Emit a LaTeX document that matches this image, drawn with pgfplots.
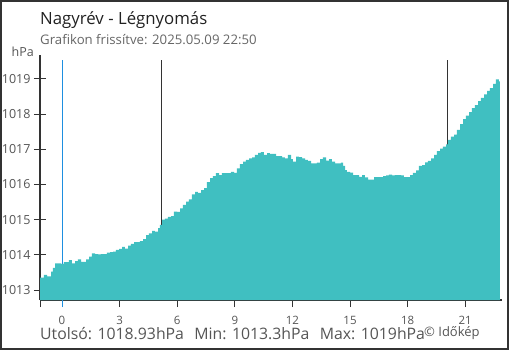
\documentclass[border=0pt]{standalone}
\usepackage{fontspec}
\setmainfont{Open Sans}
\usepackage{pgfplots}
\pgfplotsset{compat=1.18}
\definecolor{teal1}{HTML}{40BFC1}
\definecolor{axgray}{HTML}{333333}
\definecolor{txtgray}{HTML}{555555}
\definecolor{vblue}{HTML}{1E8FE0}
\pgfplotstableread{
h v
-1.146 1012.716
-1.146 1013.35
-0.94 1013.43
-0.78 1013.39
-0.57 1013.52
-0.47 1013.63
-0.36 1013.76
-0.21 1013.76
-0.05 1013.74
0.10 1013.79
0.26 1013.79
0.36 1013.85
0.52 1013.76
0.68 1013.82
0.83 1013.87
0.99 1013.80
1.15 1013.80
1.25 1013.87
1.41 1013.95
1.56 1014.04
1.72 1014.02
1.88 1014.01
2.03 1014.02
2.19 1014.02
2.34 1014.06
2.50 1014.08
2.66 1014.09
2.81 1014.14
2.97 1014.17
3.13 1014.23
3.28 1014.18
3.44 1014.26
3.59 1014.31
3.75 1014.36
3.91 1014.36
4.06 1014.39
4.22 1014.45
4.38 1014.56
4.53 1014.61
4.69 1014.68
4.84 1014.66
5.00 1014.76
5.10 1014.85
5.21 1015.00
5.36 1015.03
5.52 1015.08
5.68 1015.10
5.83 1015.23
5.99 1015.22
6.15 1015.32
6.30 1015.42
6.46 1015.51
6.61 1015.58
6.77 1015.72
6.93 1015.79
7.08 1015.76
7.24 1015.84
7.40 1015.90
7.55 1016.07
7.71 1016.18
7.86 1016.24
8.02 1016.32
8.18 1016.27
8.33 1016.32
8.49 1016.32
8.65 1016.32
8.80 1016.36
8.96 1016.33
9.11 1016.46
9.27 1016.58
9.43 1016.65
9.58 1016.70
9.74 1016.74
9.90 1016.77
10.05 1016.84
10.21 1016.90
10.36 1016.92
10.52 1016.84
10.68 1016.89
10.83 1016.87
10.99 1016.87
11.15 1016.81
11.30 1016.81
11.46 1016.77
11.61 1016.74
11.77 1016.84
11.93 1016.72
12.03 1016.65
12.19 1016.79
12.34 1016.78
12.50 1016.74
12.66 1016.70
12.81 1016.67
12.97 1016.60
13.13 1016.60
13.28 1016.62
13.44 1016.72
13.59 1016.77
13.75 1016.68
13.91 1016.72
14.06 1016.65
14.22 1016.60
14.38 1016.60
14.53 1016.62
14.64 1016.53
14.74 1016.41
14.84 1016.36
15.00 1016.34
15.16 1016.27
15.31 1016.27
15.47 1016.22
15.63 1016.27
15.78 1016.20
15.94 1016.14
16.09 1016.14
16.25 1016.21
16.41 1016.21
16.56 1016.21
16.72 1016.24
16.88 1016.26
17.03 1016.28
17.19 1016.26
17.34 1016.27
17.50 1016.27
17.66 1016.26
17.81 1016.21
17.97 1016.21
18.13 1016.27
18.28 1016.33
18.44 1016.40
18.59 1016.53
18.75 1016.55
18.91 1016.63
19.06 1016.67
19.22 1016.74
19.38 1016.84
19.53 1016.95
19.69 1017.02
19.84 1017.08
20.00 1017.14
20.10 1017.27
20.26 1017.36
20.42 1017.42
20.57 1017.55
20.73 1017.72
20.89 1017.86
21.04 1017.96
21.20 1018.06
21.35 1018.17
21.51 1018.26
21.67 1018.37
21.82 1018.46
21.98 1018.56
22.14 1018.66
22.29 1018.74
22.45 1018.86
22.60 1018.99
22.76 1018.93
22.81 1018.93
22.81 1012.716
}\pressure
\begin{document}
\begin{tikzpicture}[x=1pt,y=1pt]
\useasboundingbox (0,0) rectangle (510,350);
\draw[color=axgray, line width=2pt] (1,1) rectangle (508,349);
\begin{axis}[
  at={(40pt,50pt)}, anchor=south west,
  scale only axis, width=462pt, height=245pt,
  xmin=-1.146, xmax=22.917, ymin=1012.716, ymax=1019.682,
  axis x line*=bottom, axis y line*=left,
  axis line style={axgray, line width=1.2pt, -},
  tick style={axgray, line width=1pt},
  xtick align=outside, ytick align=center,
  major tick length=12pt,
  xtick style={/pgfplots/major tick length=7pt},
  xtick={-1.146,3,6,9,12,15,18,21},
  xticklabels={,3,6,9,12,15,18,21},
  extra x ticks={0}, extra x tick labels={0},
  extra x tick style={major tick style={vblue}},
  ytick={1013,1014,1015,1016,1017,1018,1019},
  /pgf/number format/assume math mode=true,
  /pgf/number format/1000 sep={},
  x tick label style={font=\fontsize{11.5}{12}\selectfont, text=txtgray, inner sep=0pt, yshift=-4pt},
  y tick label style={font=\fontsize{12.5}{13}\selectfont, text=txtgray},
  clip=true,
]
\addplot[vblue, line width=0.8pt] coordinates {(0,1012.716) (0,1019.54)};
\addplot[axgray, line width=0.9pt] coordinates {(5.16,1012.716) (5.16,1019.54)};
\addplot[axgray, line width=0.9pt] coordinates {(20.05,1012.716) (20.05,1019.54)};
\addplot[const plot, fill=teal1, draw=none] table[x=h, y=v] {\pressure};
\end{axis}
\node[anchor=base west, inner sep=0pt, text=black!87, font=\fontsize{16.8}{18}\selectfont] at (40,325.7) {Nagyrév - Légnyomás};
\node[anchor=base west, inner sep=0pt, text=txtgray!90, font=\fontsize{13.2}{14}\selectfont] at (40,305) {Grafikon frissítve: 2025.05.09 22:50};
\node[anchor=base east, inner sep=0pt, text=txtgray, font=\fontsize{12.5}{13}\selectfont] at (34,293) {hPa};
\node[anchor=base west, inner sep=0pt, text=txtgray, font=\fontsize{15.8}{18}\selectfont] at (40,10.7) {Utolsó: 1018.93hPa\hspace{0.4em} Min: 1013.3hPa\hspace{0.4em} Max: 1019hPa};
\node[anchor=base west, inner sep=0pt, text=txtgray, font=\fontsize{13}{14}\selectfont] at (424,14) {© Időkép};
\end{tikzpicture}
\end{document}
